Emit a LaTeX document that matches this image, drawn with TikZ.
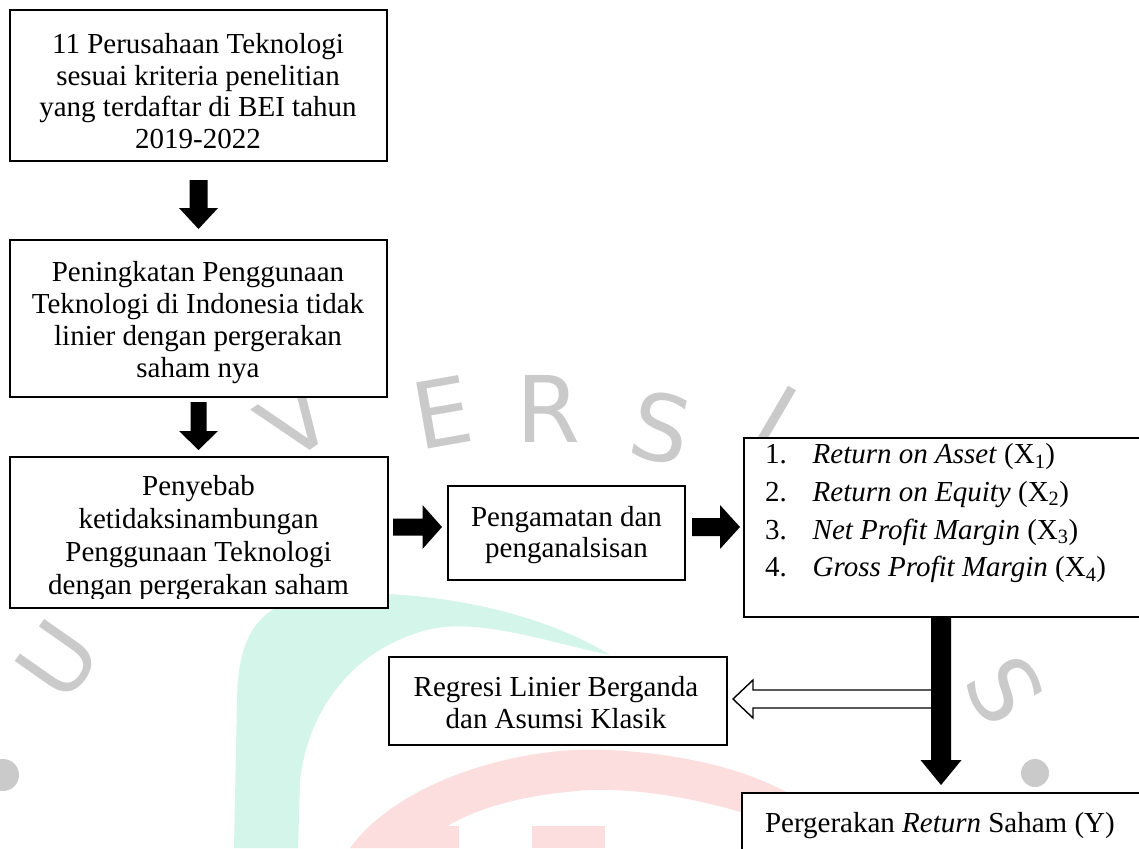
\documentclass[tikz,border=0pt]{standalone}
\usepackage{fontspec}
\setmainfont{Liberation Serif}
\newfontfamily\wmfont{DejaVu Sans}
\usetikzlibrary{calc}
\definecolor{wmgrey}{HTML}{CACACA}
\definecolor{wmmint}{HTML}{D3F5EA}
\definecolor{wmpink}{HTML}{FCDEDE}
\newcommand{\blkdown}[5]{\fill[black] let \p1=(#1), \p2=(#2) in (\x1-#3pt,\y1) -- (\x1+#3pt,\y1) -- (\x1+#3pt,\y2+#5pt) -- (\x1+#4pt,\y2+#5pt) -- (\x1,\y2) -- (\x1-#4pt,\y2+#5pt) -- (\x1-#3pt,\y2+#5pt) -- cycle;}
\newcommand{\blkright}[5]{\fill[black] let \p1=(#1), \p2=(#2) in (\x1,\y1+#3pt) -- (\x2-#5pt,\y1+#3pt) -- (\x2-#5pt,\y1+#4pt) -- (\x2,\y1) -- (\x2-#5pt,\y1-#4pt) -- (\x2-#5pt,\y1-#3pt) -- (\x1,\y1-#3pt) -- cycle;}
\begin{document}
\begin{tikzpicture}[x=1pt,y=-1pt,
  box/.style={draw=black, line width=1.3pt, fill=white, inner sep=0pt, outer sep=0pt},
  txt/.style={inner sep=0pt, outer sep=0pt, align=center, anchor=north},
  lst/.style={inner sep=0pt, outer sep=0pt, anchor=base west, font=\fontsize{29}{34}\selectfont},
  wm/.style={inner sep=0pt, text=wmgrey, font=\wmfont\fontsize{92}{92}\selectfont}]
\clip (0,0) rectangle (1139,848);
\fill[white] (0,0) rectangle (1139,848);
% watermark
\fill[wmmint] (234,848) -- (237,700) .. controls (238,640) and (255,605) .. (310,597)
  .. controls (400,585) and (530,605) .. (610,655)
  .. controls (540,640) and (470,615) .. (420,632)
  .. controls (360,650) and (310,700) .. (300,780) -- (298,848) -- cycle;
\fill[wmpink] (350,848) .. controls (400,780) and (520,745) .. (610,750)
  .. controls (700,755) and (760,775) .. (800,800) -- (790,830)
  .. controls (720,800) and (640,788) .. (590,790)
  .. controls (510,795) and (450,815) .. (420,848) -- cycle;
\fill[wmpink] (417,826) rectangle (459,848);
\fill[wmpink] (532,826) rectangle (605,848);
\node[wm, rotate=55] (wU) at (58,660) {U};
\node[wm, rotate=35] (wV) at (295,420) {V};
\node[wm, rotate=10] (wE) at (442,412) {E};
\node[wm, rotate=0] (wR) at (548,409) {R};
\node[wm, rotate=-12] (wS) at (661,428) {S};
\draw[wmgrey, line width=9pt] (792,388) -- (758,446);
\node[wm, rotate=-60] (wS2) at (1005,690) {S};
\fill[wmgrey] (1035,773) circle[radius=14pt];
\fill[wmgrey] (3,775) circle[radius=16pt];
% boxes
\node[box, minimum width=377pt, minimum height=151pt] (b1) at (198.5,85.5) {};
\node[box, minimum width=377pt, minimum height=157pt] (b2) at (198.5,318.5) {};
\node[box, minimum width=378pt, minimum height=151pt] (b3) at (199,532.5) {};
\node[box, minimum width=237pt, minimum height=94pt] (b4) at (566.5,533) {};
\node[box, minimum width=416pt, minimum height=179pt] (b5) at (952,527.5) {};
\node[box, minimum width=338pt, minimum height=88pt] (reg) at (558,701) {};
\node[box, minimum width=418pt, minimum height=77pt] (by) at (951,831.5) {};
% texts
\node[txt, font=\fontsize{29}{31.4}\selectfont] (t1) at (198,31.98)
  {\strut 11 Perusahaan Teknologi\\ sesuai kriteria penelitian\\ yang terdaftar di BEI tahun\\ 2019-2022};
\node[txt, font=\fontsize{29}{32}\selectfont] (t2) at (198,258.6)
  {\strut Peningkatan Penggunaan\\ Teknologi di Indonesia tidak\\ linier dengan pergerakan\\ saham nya};
\begin{scope}
\clip (10,457) rectangle (388,598.5);
\node[txt, font=\fontsize{29}{33.3}\selectfont] (t3) at (198.5,471.7)
  {\strut Penyebab\\ ketidaksinambungan\\ Penggunaan Teknologi\\ dengan pergerakan saham};
\end{scope}
\node[txt, font=\fontsize{29}{31}\selectfont] (t4) at (566.5,504.3)
  {\strut Pengamatan dan\\ penganalsisan};
\node[txt, font=\fontsize{29}{32}\selectfont] (tr) at (556,673.6)
  {\strut Regresi Linier Berganda\\ dan Asumsi Klasik};
\node[lst] (n1) at (765,463.3) {1.};
\node[lst] (i1) at (812.7,463.3) {\textit{Return on Asset} (X\textsubscript{1})};
\node[lst] (n2) at (765,501) {2.};
\node[lst] (i2) at (812.7,501) {\textit{Return on Equity} (X\textsubscript{2})};
\node[lst] (n3) at (765,539) {3.};
\node[lst] (i3) at (812.7,539) {\textit{Net Profit Margin} (X\textsubscript{3})};
\node[lst] (n4) at (765,576.7) {4.};
\node[lst] (i4) at (812.7,576.7) {\textit{Gross Profit Margin} (X\textsubscript{4})};
\node[lst] (ty) at (765,832) {Pergerakan \textit{Return} Saham (Y)};
% connectors
\coordinate (a1s) at ([yshift=-19pt]b1.south);
\coordinate (a1e) at ([yshift=11pt]b2.north);
\blkdown{a1s}{a1e}{9}{19.5}{21}
\coordinate (a2s) at ([yshift=-5pt]b2.south);
\coordinate (a2e) at ([yshift=7pt]b3.north);
\blkdown{a2s}{a2e}{8}{19.5}{19}
\coordinate (a3s) at ([xshift=5pt,yshift=5.5pt]b3.east);
\coordinate (a3e) at ([xshift=-6pt,yshift=6pt]b4.west);
\blkright{a3s}{a3e}{8.5}{22}{19.5}
\coordinate (a4s) at ([xshift=7pt,yshift=6pt]b4.east);
\coordinate (a4e) at ([xshift=-4pt]b5.west);
\blkright{a4s}{a4e}{9}{22}{20}
\coordinate (a5s) at ([xshift=-11pt]b5.south);
\coordinate (a5e) at ([xshift=-10pt,yshift=8pt]by.north);
\coordinate (ht) at ([xshift=6pt,yshift=2pt]reg.east);
\coordinate (hs) at (a5s |- ht);
\draw[line width=1.4pt, fill=white, line join=miter] let \p1=(hs), \p2=(ht) in
  (\x1,\y1+9pt) -- (\x2+20pt,\y1+9pt) -- (\x2+20pt,\y1+19pt) -- (\x2,\y1)
  -- (\x2+20pt,\y1-19pt) -- (\x2+20pt,\y1-9pt) -- (\x1,\y1-9pt);
\blkdown{a5s}{a5e}{10}{20.5}{25}
\end{tikzpicture}
\end{document}
